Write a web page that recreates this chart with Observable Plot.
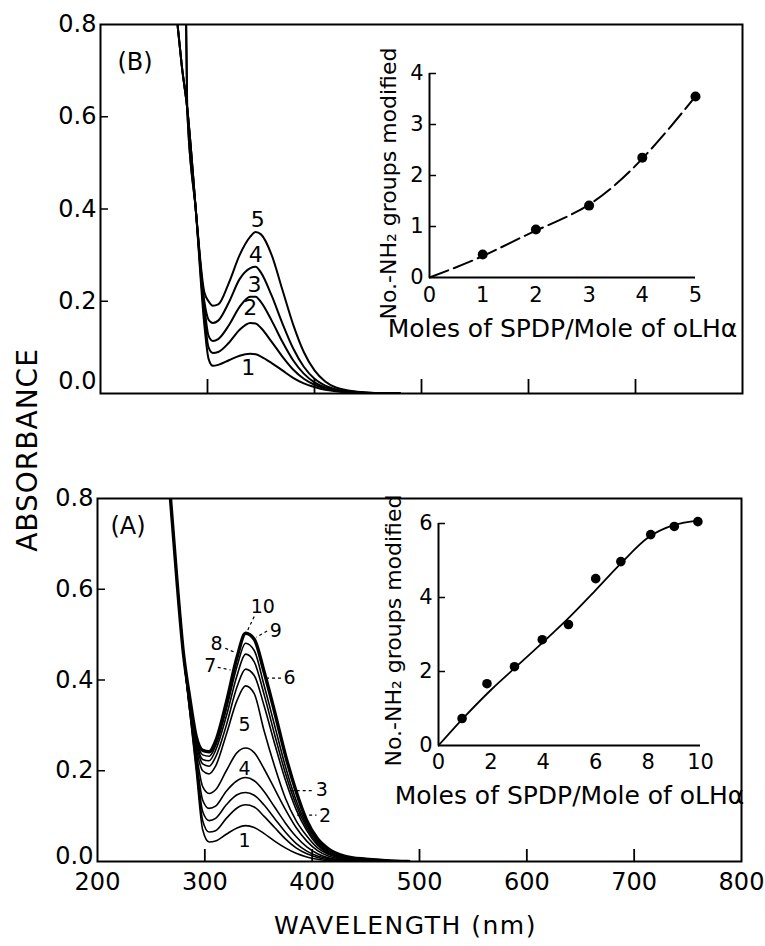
<!DOCTYPE html>
<html><head><meta charset="utf-8">
<script src="https://cdn.jsdelivr.net/npm/d3@7"></script>
<script src="https://cdn.jsdelivr.net/npm/@observablehq/plot@0.6"></script>
<style>
body{margin:0;background:#fff;}
#root{position:relative;width:765px;height:946px;overflow:hidden;background:#fff;font-family:"DejaVu Sans",sans-serif;color:#000;}
.pane{position:absolute;}
#ylab{position:absolute;left:27px;top:450px;transform:translate(-50%,-50%) rotate(-90deg);font-size:28px;letter-spacing:1px;white-space:nowrap;font-family:"DejaVu Sans",sans-serif;}
</style></head><body><div id="root"><div id="ylab">ABSORBANCE</div></div>
<script>
// ---------- Panel B (top) spectra ----------
const wlB = [262, 272, 276, 281, 289, 297, 301, 305, 310, 320, 330, 340, 345, 350, 360, 370, 380, 390, 400, 410, 420, 440, 460, 480];
const absB1 = [1.05, 0.8, 0.71, 0.62, 0.4, 0.15, 0.075, 0.06, 0.062, 0.072, 0.082, 0.086, 0.085, 0.08, 0.066, 0.05, 0.034, 0.022, 0.014, 0.008, 0.005, 0.002, 0, 0];
const absB2 = [1.05, 0.8, 0.71, 0.62, 0.4, 0.17, 0.1, 0.088, 0.09, 0.11, 0.138, 0.153, 0.152, 0.142, 0.112, 0.08, 0.052, 0.032, 0.019, 0.011, 0.006, 0.002, 0, 0];
const absB3 = [1.05, 0.8, 0.71, 0.62, 0.4, 0.19, 0.125, 0.114, 0.118, 0.148, 0.188, 0.21, 0.21, 0.198, 0.158, 0.112, 0.072, 0.043, 0.024, 0.013, 0.007, 0.002, 0.001, 0];
const absB4 = [2.5, 2.0, 1.6, 0.62, 0.4, 0.2, 0.16, 0.153, 0.158, 0.198, 0.248, 0.272, 0.275, 0.262, 0.212, 0.152, 0.098, 0.058, 0.032, 0.017, 0.009, 0.003, 0.001, 0];
const absB5 = [2.5, 2.0, 1.6, 0.62, 0.4, 0.22, 0.2, 0.19, 0.193, 0.24, 0.3, 0.34, 0.35, 0.345, 0.3, 0.225, 0.15, 0.09, 0.05, 0.026, 0.013, 0.004, 0.001, 0];
const labelsB = ["5", "4", "3", "2", "1"];
const labelBx = [347, 345, 344, 340, 338];
const labelBy = [0.376, 0.300, 0.236, 0.185, 0.056];

// ---------- Panel A (bottom) spectra ----------
const wlA = [262, 268, 274, 280, 286, 292, 298, 304, 310, 320, 330, 338, 346, 355, 365, 375, 385, 395, 405, 415, 430, 450, 470, 490];
const absA1 = [1.0, 0.8, 0.62, 0.46, 0.33, 0.2, 0.07, 0.043, 0.045, 0.06, 0.074, 0.079, 0.075, 0.062, 0.045, 0.03, 0.018, 0.01, 0.005, 0.002, 0, 0, 0, 0];
const absA2 = [1.0, 0.8, 0.62, 0.46, 0.33, 0.21, 0.09, 0.065, 0.068, 0.095, 0.118, 0.125, 0.12, 0.1, 0.075, 0.05, 0.03, 0.017, 0.009, 0.004, 0.001, 0, 0, 0];
const absA3 = [1.0, 0.8, 0.62, 0.46, 0.335, 0.22, 0.11, 0.09, 0.095, 0.125, 0.147, 0.152, 0.146, 0.125, 0.095, 0.065, 0.04, 0.023, 0.012, 0.006, 0.002, 0, 0, 0];
const absA4 = [1.0, 0.8, 0.62, 0.46, 0.34, 0.23, 0.135, 0.117, 0.122, 0.155, 0.178, 0.185, 0.178, 0.155, 0.12, 0.085, 0.055, 0.032, 0.017, 0.008, 0.003, 0, 0, 0];
const absA5 = [1.0, 0.8, 0.62, 0.46, 0.34, 0.24, 0.165, 0.15, 0.158, 0.2, 0.24, 0.25, 0.24, 0.205, 0.16, 0.115, 0.075, 0.045, 0.024, 0.012, 0.004, 0.001, 0, 0];
const absA6 = [1.0, 0.8, 0.62, 0.46, 0.345, 0.25, 0.2, 0.193, 0.21, 0.28, 0.355, 0.387, 0.37, 0.29, 0.21, 0.14, 0.09, 0.056, 0.03, 0.016, 0.006, 0.002, 0, 0];
const absA7 = [1.0, 0.8, 0.62, 0.46, 0.35, 0.26, 0.215, 0.21, 0.23, 0.3, 0.385, 0.424, 0.41, 0.345, 0.26, 0.18, 0.115, 0.068, 0.036, 0.018, 0.007, 0.002, 0, 0];
const absA8 = [1.0, 0.8, 0.62, 0.46, 0.35, 0.265, 0.225, 0.222, 0.245, 0.32, 0.41, 0.457, 0.44, 0.37, 0.28, 0.195, 0.125, 0.074, 0.04, 0.02, 0.008, 0.002, 0, 0];
const absA9 = [1.0, 0.8, 0.62, 0.46, 0.355, 0.27, 0.235, 0.232, 0.255, 0.335, 0.43, 0.481, 0.465, 0.39, 0.3, 0.21, 0.135, 0.08, 0.044, 0.023, 0.009, 0.003, 0.001, 0];
const absA10 = [1.0, 0.8, 0.62, 0.46, 0.36, 0.275, 0.245, 0.242, 0.265, 0.35, 0.45, 0.503, 0.49, 0.42, 0.33, 0.235, 0.155, 0.09, 0.05, 0.028, 0.012, 0.005, 0.002, 0];
const labelsA = ["10", "9", "8", "7", "6", "5", "4", "3", "2", "1"];
const labelAx = [354, 366, 311, 305, 379, 337, 337, 409, 412, 337];
const labelAy = [0.560, 0.508, 0.480, 0.430, 0.404, 0.300, 0.205, 0.158, 0.100, 0.046];
// leader lines (start / end in data units)
const leadX1 = [346, 358, 319, 312, 371, 380, 386];
const leadY1 = [0.540, 0.508, 0.470, 0.428, 0.404, 0.156, 0.102];
const leadX2 = [339, 348, 327, 324, 355, 401, 404];
const leadY2 = [0.505, 0.494, 0.462, 0.422, 0.404, 0.156, 0.102];

// ---------- axes ticks ----------
const absTicks = [0.2, 0.4, 0.6, 0.8];
const absZero = [0];
const wlTicks = [200, 300, 400, 500, 600, 700, 800];
const wlInnerTicks = [300, 400, 500, 600, 700];

// ---------- Inset B ----------
const insetBx = [1, 2, 3, 4, 5];
const insetBy = [0.45, 0.94, 1.41, 2.35, 3.55];
const insetBLineX = [0, 1, 2, 3, 4, 5];
const insetBLineY = [0, 0.42, 0.92, 1.43, 2.33, 3.55];
const insetBxTicks = [0, 1, 2, 3, 4, 5];
const insetByTicks = [0, 1, 2, 3, 4];

// ---------- Inset A ----------
const insetAx = [0.9, 1.85, 2.9, 3.96, 4.96, 6.0, 6.96, 8.1, 9.0, 9.9];
const insetAy = [0.73, 1.67, 2.13, 2.86, 3.27, 4.51, 4.97, 5.7, 5.92, 6.05];
const insetALineX = [0, 1, 2, 3, 4, 5, 6, 7, 8, 9, 9.9];
const insetALineY = [0, 0.78, 1.5, 2.15, 2.8, 3.47, 4.2, 4.95, 5.62, 5.96, 6.08];
const insetAxTicks = [0, 2, 4, 6, 8, 10];
const insetAyTicks = [0, 2, 4, 6];

const xLabelInset = "Moles of SPDP/Mole of oLHα";
const yLabelInset = "No.-NH₂ groups modified";

// ---------- build ----------
const root = document.getElementById("root");
function place(node, left, top) {
  const d = document.createElement("div");
  d.className = "pane";
  d.style.left = left + "px";
  d.style.top = top + "px";
  d.appendChild(node);
  root.appendChild(d);
}
const baseStyle = {fontFamily: "DejaVu Sans, sans-serif", fontSize: "24px", color: "#000", background: "transparent", overflow: "visible"};
const fmt1 = d3.format(".1f");
const fmtInt = d => String(d);

const seriesB = [absB1, absB2, absB3, absB4, absB5];
const rowsB = [];
seriesB.forEach((vals, i) => vals.forEach((v, j) => rowsB.push({wl: wlB[j], a: v, s: i + 1})));
const seriesA = [absA1, absA2, absA3, absA4, absA5, absA6, absA7, absA8, absA9, absA10];
const rowsA = [];
seriesA.forEach((vals, i) => vals.forEach((v, j) => rowsA.push({wl: wlA[j], a: v, s: i + 1})));
const labB = labelsB.map((t, i) => ({t, x: labelBx[i], y: labelBy[i]}));
const labA = labelsA.map((t, i) => ({t, x: labelAx[i], y: labelAy[i]}));
const leads = leadX1.map((x1, i) => ({x1, y1: leadY1[i], x2: leadX2[i], y2: leadY2[i]}));

const topPlot = Plot.plot({
  width: 765, height: 400,
  marginLeft: 100, marginRight: 23, marginTop: 24, marginBottom: 7,
  x: {domain: [200, 800], label: null},
  y: {domain: [0, 0.8], label: null},
  style: baseStyle,
  marks: [
    Plot.line(rowsB, {x: "wl", y: "a", z: "s", curve: "monotone-x", stroke: "#000", strokeWidth: 2, clip: true}),
    Plot.axisY(absTicks, {tickSize: 0, tickPadding: 4, tickFormat: fmt1, fontSize: 24, label: null}),
    Plot.axisY(absZero, {tickSize: 0, tickPadding: 4, tickFormat: fmt1, fontSize: 24, dy: -12, label: null}),
    Plot.axisY([0.2, 0.4, 0.6], {tickSize: -8, fill: "none", strokeWidth: 1.5, label: null}),
    Plot.axisX(wlInnerTicks, {tickSize: -14, fill: "none", strokeWidth: 1.8, label: null}),
    Plot.frame({stroke: "#000", strokeWidth: 2}),
    Plot.text(labB, {x: "x", y: "y", text: "t", fontSize: 22}),
    Plot.text(["(B)"], {frameAnchor: "top-left", dx: 17, dy: 38, textAnchor: "start", lineAnchor: "middle", fontSize: 24})
  ]
});
place(topPlot, 0, 0);

const botPlot = Plot.plot({
  width: 765, height: 506,
  marginLeft: 97, marginRight: 24, marginTop: 58, marginBottom: 85,
  x: {domain: [200, 800], label: null},
  y: {domain: [0, 0.8], label: null},
  style: baseStyle,
  marks: [
    Plot.line(rowsA, {x: "wl", y: "a", z: "s", curve: "monotone-x", stroke: "#000", strokeWidth: d => d.s === 10 ? 3.4 : 1.6, clip: true}),
    Plot.link(leads, {x1: "x1", y1: "y1", x2: "x2", y2: "y2", stroke: "#000", strokeWidth: 1.2, strokeDasharray: "3,3"}),
    Plot.axisY(absTicks, {tickSize: 0, tickPadding: 4, tickFormat: fmt1, fontSize: 24, label: null}),
    Plot.axisY(absZero, {tickSize: 0, tickPadding: 4, tickFormat: fmt1, fontSize: 24, dy: -5, label: null}),
    Plot.axisY([0.2, 0.4, 0.6], {tickSize: -8, fill: "none", strokeWidth: 1.5, label: null}),
    Plot.axisX(wlInnerTicks, {tickSize: -12, fill: "none", strokeWidth: 1.8, label: null}),
    Plot.axisX(wlTicks, {tickSize: 0, tickPadding: 11, fontSize: 24, label: null}),
    Plot.frame({stroke: "#000", strokeWidth: 2}),
    Plot.text(labA, {x: "x", y: "y", text: "t", fontSize: 19}),
    Plot.text(["(A)"], {frameAnchor: "top-left", dx: 13, dy: 28, textAnchor: "start", lineAnchor: "middle", fontSize: 24}),
    Plot.text(["WAVELENGTH (nm)"], {frameAnchor: "bottom", dx: -14, dy: 64, lineAnchor: "middle", fontSize: 25})
  ]
});
d3.select(botPlot).selectAll("text").filter(function () { return this.textContent === "WAVELENGTH (nm)"; }).attr("letter-spacing", "1.5px");
place(botPlot, 0, 440);

const ptsB = insetBx.map((x, i) => ({x, y: insetBy[i]}));
const lineB = insetBLineX.map((x, i) => ({x, y: insetBLineY[i]}));
const insetB = Plot.plot({
  width: 380, height: 310,
  marginLeft: 59, marginRight: 55, marginTop: 33, marginBottom: 73,
  x: {domain: [0, 5], label: null},
  y: {domain: [0, 4], label: null},
  style: baseStyle,
  marks: [
    Plot.ruleY([0], {stroke: "#000", strokeWidth: 2}),
    Plot.ruleX([0], {y1: 0, y2: 4, stroke: "#000", strokeWidth: 2}),
    Plot.axisY([1, 2, 3, 4], {tickSize: -7, fill: "none", strokeWidth: 1.5, label: null}),
    Plot.axisY(insetByTicks, {tickSize: 0, tickPadding: 6, tickFormat: fmtInt, fontSize: 21, label: null}),
    Plot.axisX(insetBxTicks, {tickSize: 0, tickPadding: 10, tickFormat: fmtInt, fontSize: 21, label: null}),
    Plot.line(lineB, {x: "x", y: "y", curve: "natural", stroke: "#000", strokeWidth: 2, strokeDasharray: "20,6"}),
    Plot.dot(ptsB, {x: "x", y: "y", r: 5, fill: "#000", stroke: "none"}),
    Plot.text([xLabelInset], {frameAnchor: "bottom", dy: 51, lineAnchor: "middle", fontSize: 25}),
    Plot.text([yLabelInset], {frameAnchor: "left", rotate: -90, dx: -41, dy: 8, textAnchor: "middle", lineAnchor: "middle", fontSize: 22})
  ]
});
place(insetB, 370, 40);

const ptsA = insetAx.map((x, i) => ({x, y: insetAy[i]}));
const lineA = insetALineX.map((x, i) => ({x, y: insetALineY[i]}));
const insetA = Plot.plot({
  width: 380, height: 330,
  marginLeft: 68, marginRight: 50, marginTop: 43, marginBottom: 65,
  x: {domain: [0, 10], label: null},
  y: {domain: [0, 6], label: null},
  style: baseStyle,
  marks: [
    Plot.ruleY([0], {stroke: "#000", strokeWidth: 2}),
    Plot.ruleX([0], {y1: 0, y2: 6, stroke: "#000", strokeWidth: 2}),
    Plot.axisY([2, 4, 6], {tickSize: -7, fill: "none", strokeWidth: 1.5, label: null}),
    Plot.axisY(insetAyTicks, {tickSize: 0, tickPadding: 6, tickFormat: fmtInt, fontSize: 21, label: null}),
    Plot.axisX(insetAxTicks, {tickSize: 0, tickPadding: 9, tickFormat: fmtInt, fontSize: 21, label: null}),
    Plot.line(lineA, {x: "x", y: "y", curve: "monotone-x", stroke: "#000", strokeWidth: 1.8}),
    Plot.dot(ptsA, {x: "x", y: "y", r: 4.8, fill: "#000", stroke: "none"}),
    Plot.text([xLabelInset], {frameAnchor: "bottom", dy: 50, lineAnchor: "middle", fontSize: 25}),
    Plot.text([yLabelInset], {frameAnchor: "left", rotate: -90, dx: -45, dy: -4, textAnchor: "middle", lineAnchor: "middle", fontSize: 22})
  ]
});
place(insetA, 370, 480);
</script>
</body></html>
